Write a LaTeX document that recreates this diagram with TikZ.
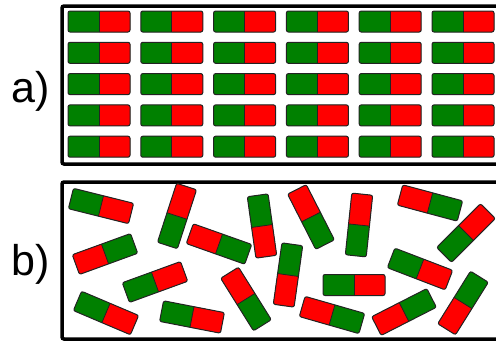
\documentclass[tikz,border=0pt]{standalone}
\usepackage{fontspec}
\setsansfont{Liberation Sans}
\definecolor{magnetgreen}{RGB}{0,128,0}
\definecolor{magnetred}{RGB}{255,0,0}
\definecolor{edgegrey}{RGB}{35,35,35}
\tikzset{
  magnet/.pic={
    \fill[magnetgreen,rounded corners=2] (-31,-10.5) rectangle (31,10.5);
    \begin{scope}
      \clip (0,-12) rectangle (33,12);
      \fill[magnetred,rounded corners=2] (-31,-10.5) rectangle (31,10.5);
    \end{scope}
    \draw[edgegrey,line width=0.8] (0,-10.5) -- (0,10.5);
    \draw[edgegrey,line width=1,rounded corners=2] (-31,-10.5) rectangle (31,10.5);
  },
  frame/.style={draw=black, line width=3.5, rounded corners=2},
  lbl/.style={font=\sffamily\fontsize{43}{43}\selectfont, inner sep=0pt, anchor=base west},
}
\begin{document}
\begin{tikzpicture}[x=1pt,y=-1pt]
  \useasboundingbox (0,0) rectangle (496,343);
  \clip (0,0) rectangle (496,343);
  % a) ordered
  \node[lbl] (labela) at (11,102) {a)};
  \draw[frame] (62,6) rectangle (515,164);
  \foreach \c in {0,...,5}{
    \foreach \r in {0,...,4}{
      \pic at ({99+72.8*\c},{21.5+31.3*\r}) {magnet};
    }
  }
  % b) disordered
  \node[lbl] (labelb) at (11,275) {b)};
  \draw[frame] (62,182) rectangle (515,339);
  \foreach \x/\y/\a in {101/206/-14, 177/216/72, 219/244/160.5, 262/226/-82,
      105/254/200, 155/282/20, 106/313/-23, 192/317/-11, 246/299/122,
      288/275/-98, 311/217/117, 359/225/84, 430/203/165, 466/233/45,
      420/269/-21, 354/285/0, 332/315/164, 404/312/207, 463/303/238}{
    \pic[rotate=\a] at (\x,\y) {magnet};
  }
\end{tikzpicture}
\end{document}
